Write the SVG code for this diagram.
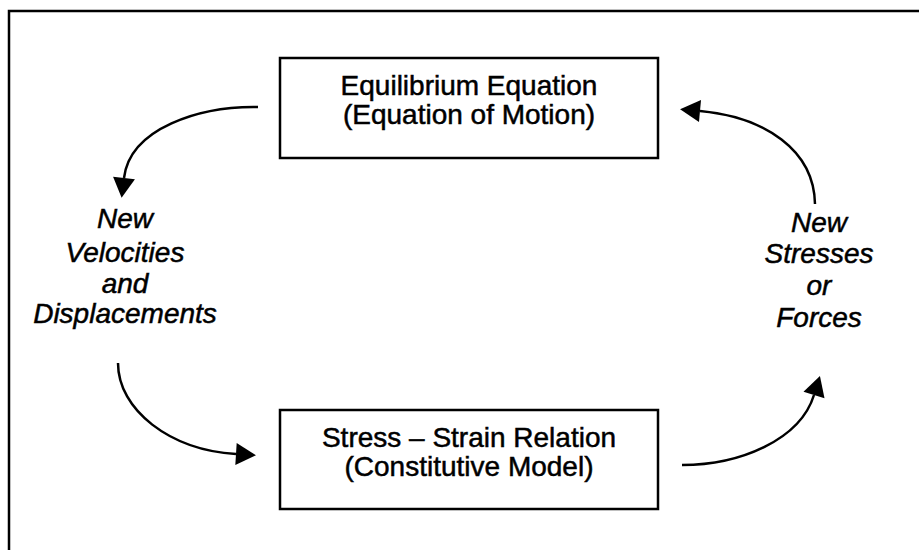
<svg xmlns="http://www.w3.org/2000/svg" width="919" height="550" viewBox="0 0 919 550">
<style>
.box{fill:#fff;stroke:#000;stroke-width:2.5}
.frame{fill:none;stroke:#000;stroke-width:2.5}
.t{font-family:"Liberation Sans",Arial,sans-serif;font-size:28px;fill:#000;stroke:#000;stroke-width:0.5;text-anchor:middle}
.it{font-style:italic}
.conn{fill:none;stroke:#000;stroke-width:2.5}
</style>
<defs>
<marker id="ah" markerUnits="userSpaceOnUse" markerWidth="20" markerHeight="22" refX="0" refY="11" orient="auto" overflow="visible">
<path d="M0,0 L20,11 L0,22 z" fill="#000"/>
</marker>
</defs>
<rect width="919" height="550" fill="#fff"/>
<path class="frame" d="M9,552 L9,11 L921,11"/>
<g id="equilibrium">
<rect class="box" x="280" y="58" width="378" height="100"/>
<text class="t" x="469" y="95">Equilibrium Equation</text>
<text class="t" x="469" y="124">(Equation of Motion)</text>
</g>
<g id="stress-strain">
<rect class="box" x="280" y="410" width="378" height="99"/>
<text class="t" x="469" y="447">Stress – Strain Relation</text>
<text class="t" x="469" y="476">(Constitutive Model)</text>
</g>
<g id="velocities">
<text class="t it" x="125" y="228">New</text>
<text class="t it" x="125" y="262">Velocities</text>
<text class="t it" x="125" y="293">and</text>
<text class="t it" x="125" y="323">Displacements</text>
</g>
<g id="stresses">
<text class="t it" x="819" y="232">New</text>
<text class="t it" x="819" y="263">Stresses</text>
<text class="t it" x="819" y="295">or</text>
<text class="t it" x="819" y="327">Forces</text>
</g>
<g id="connectors">
<path class="conn" marker-end="url(#ah)" d="M258,107 C200,106 130,128 124,178"/>
<path class="conn" marker-end="url(#ah)" d="M118,363 C118,410 170,450 236,454"/>
<path class="conn" marker-end="url(#ah)" d="M682,465 C740,465 800,440 814,395"/>
<path class="conn" marker-end="url(#ah)" d="M815,204 C814,150 765,117 700,111"/>
</g>
</svg>
